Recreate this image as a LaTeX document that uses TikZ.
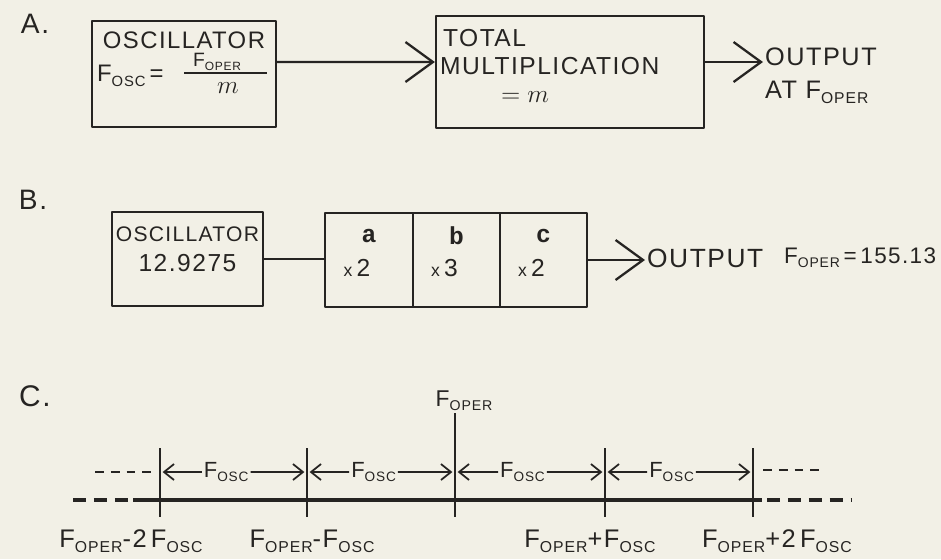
\documentclass[tikz,border=0pt]{standalone}
\usepackage{fontspec}
\usepackage{graphicx}
\setmainfont{Liberation Sans}[LetterSpace=6]
\newfontfamily\typefont{Liberation Mono}
\usetikzlibrary{arrows.meta,calc}

\definecolor{paper}{RGB}{242,240,230}
\definecolor{ink}{RGB}{38,36,34}

\newcommand{\lowsub}[1]{\raisebox{-0.35ex}{\scalebox{0.62}{#1}}}
\newcommand{\Fosc}{F\lowsub{OSC}}
\newcommand{\Foper}{F\lowsub{OPER}}

\begin{document}
\begin{tikzpicture}[x=0.02cm, y=-0.02cm, line join=round,
    blk/.style={draw=ink, line width=1.3pt, inner sep=0pt},
    txt/.style={text=ink, inner sep=1pt, font=\fontsize{13.6}{16}\selectfont},
    big/.style={text=ink, font=\fontsize{16}{18}\selectfont},
    wire/.style={ink, line width=1.3pt},
    head/.style={-{Straight Barb[length=0.55cm, width=0.8cm]}},
    smallhead/.style={ink, line width=1pt, shorten >=1.5pt, -{Straight Barb[length=0.2cm, width=0.32cm]}},
    tickline/.style={ink, line width=1.4pt}]
        \fill[paper] (0,0) rectangle (941,559);
        \useasboundingbox (0,0) rectangle (941,559);

        % Part A
        \node[big] (labA) at (35,24) {A.};
        \node[blk, minimum width=3.68cm, minimum height=2.12cm] (oscA) at (184,74) {};
        \node[txt] (oscAname) at (184,40) {OSCILLATOR};
        \node[txt, anchor=west] (oscAf) at (95,76) {\Fosc\,=};
        \node[txt, font=\fontsize{11}{13}\selectfont, inner sep=0pt] (oscAnum) at (217,62) {\Foper};
        \draw[wire, line width=1pt] (184,73) -- (267,73);
        \node[txt, inner sep=0pt] (oscAden) at (228,88) {$m$};

        \node[blk, minimum width=5.36cm, minimum height=2.24cm] (multA) at (570,72) {};
        \node[txt, anchor=west, font=\fontsize{14}{16}\selectfont] (multAa) at (441,38) {TOTAL};
        \node[txt, anchor=west, font=\fontsize{14}{16}\selectfont] (multAb) at (438,66) {MULTIPLICATION};
        \node[txt] (multAc) at (525,97) {$=m$};

        \node[txt, anchor=west, align=left, font=\fontsize{14.4}{18.7}\selectfont] (outA) at (763,76) {OUTPUT\\AT \Foper};

        \draw[wire, head] ([yshift=0.24cm]oscA.east) -- ([yshift=0.2cm]multA.west);
        \draw[wire, head] ([yshift=0.2cm]multA.east) -- ([yshift=0.2cm]multA.east -| outA.west);

        % Part B
        \node[big] (labB) at (33,200) {B.};
        \node[blk, minimum width=3.02cm, minimum height=1.88cm] (oscB) at (187.5,259) {};
        \node[txt, font=\fontsize{12}{14}\selectfont] (oscBname) at (187.5,234) {OSCILLATOR};
        \node[txt, font=\fontsize{14}{16}\selectfont] (oscBfreq) at (187.5,263) {12.9275};

        \foreach \nm/\cx/\fac in {a/369/2, b/456.5/3, c/543.5/2} {
            \node[blk, minimum width=1.75cm, minimum height=1.88cm] (mul\nm) at (\cx,260) {};
            \node[txt, font=\fontsize{14}{16}\typefont\bfseries] (mul\nm l) at (\cx,236) {\nm};
            \node[txt, font=\fontsize{14}{16}\selectfont] (mul\nm f) at (\cx-12,268) {{\fontsize{10}{12}\selectfont x}\,\fac};
        }

        \node[txt, anchor=west, font=\fontsize{15}{18}\selectfont] (outB) at (645,258) {OUTPUT};
        \node[txt, anchor=west, font=\fontsize{12.8}{15}\selectfont] (foperB) at (782,258) {\Foper\,=\,155.13};

        \draw[wire] (oscB.east) -- (oscB.east -| mula.west);
        \draw[wire, head] (mulc.east) -- (mulc.east -| outB.west);

        % Part C
        \node[big, font=\fontsize{17}{20}\selectfont] (labC) at (35,396) {C.};

        % frequency line
        \draw[ink, line width=2.2pt, dash pattern=on 7.4pt off 4.5pt] (73,500) -- (133,500);
        \draw[ink, line width=2.2pt] (133,500) -- (762,500);
        \draw[ink, line width=2.2pt, dash pattern=on 7.4pt off 4.5pt] (767,500) -- (852,500);
        \draw[ink, line width=1pt, dash pattern=on 5pt off 4pt] (95,472) -- (154,472);
        \draw[ink, line width=1pt, dash pattern=on 5pt off 4pt] (763,470) -- (824,470);

        \foreach \x [count=\i] in {160,307,455,605,753}
            \coordinate (tk\i) at (\x,472);
        \foreach \i in {1,2,4,5}
            \draw[tickline] ([yshift=0.48cm]tk\i) -- ([yshift=-0.9cm]tk\i);

        \node[txt, font=\fontsize{13}{15}\selectfont] (fop) at (464,401) {\Foper};
        \draw[tickline] (fop.south -| tk3) -- ([yshift=-0.9cm]tk3);

        \foreach \i/\j in {1/2,2/3,3/4,4/5} {
            \node[txt, font=\fontsize{12.5}{15}\selectfont] (fo\i) at ($(tk\i)!0.45!(tk\j)$) {\Fosc};
            \draw[smallhead] (fo\i.west) -- (tk\i);
            \draw[smallhead] (fo\i.east) -- (tk\j);
        }

        % labels under the line
        \node[txt, font=\fontsize{14.5}{17}\selectfont] (lm2) at (131,541) {\Foper-2\,\Fosc};
        \node[txt, font=\fontsize{14.5}{17}\selectfont] (lm1) at (312,541) {\Foper-\Fosc};
        \node[txt, font=\fontsize{14.5}{17}\selectfont] (lp1) at (590,541) {\Foper+\Fosc};
        \node[txt, font=\fontsize{14.5}{17}\selectfont] (lp2) at (777,541) {\Foper+2\,\Fosc};
\end{tikzpicture}
\end{document}
